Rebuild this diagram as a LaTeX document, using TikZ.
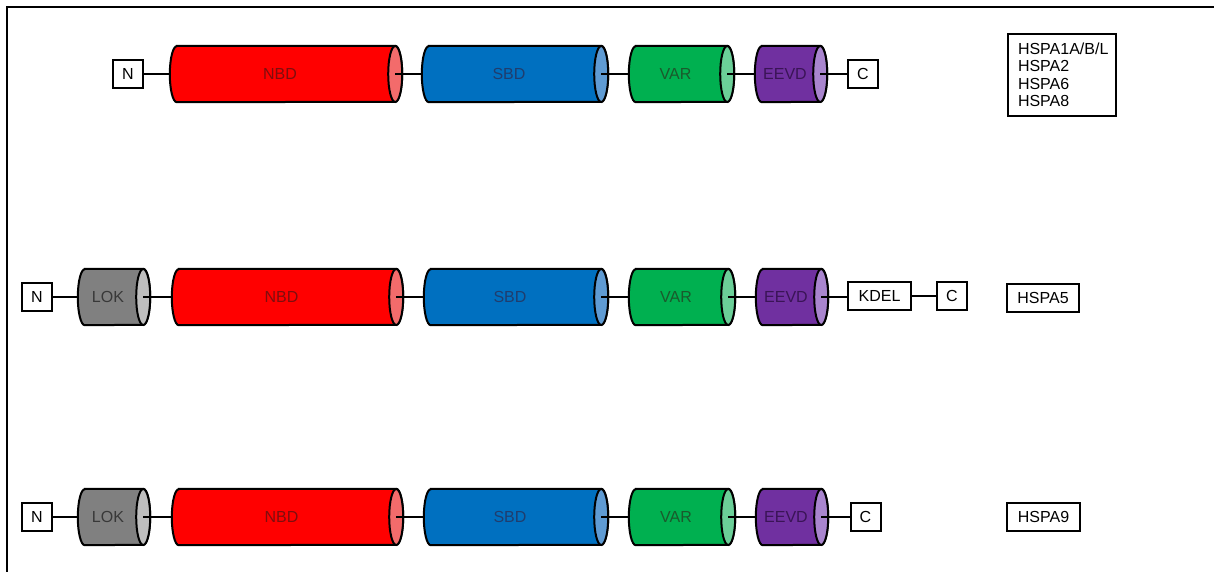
\documentclass[tikz,border=0pt]{standalone}
\usepackage{fontspec}
\setmainfont{Liberation Sans}
\usetikzlibrary{backgrounds,calc}
\definecolor{nbdB}{HTML}{FF0000}\definecolor{nbdC}{HTML}{F36B6B}\definecolor{nbdT}{HTML}{7E0E0E}
\definecolor{sbdB}{HTML}{0070C0}\definecolor{sbdC}{HTML}{5F9BD3}\definecolor{sbdT}{HTML}{1F3D6E}
\definecolor{varB}{HTML}{00B050}\definecolor{varC}{HTML}{6BCF98}\definecolor{varT}{HTML}{1A5A2C}
\definecolor{eevB}{HTML}{7030A0}\definecolor{eevC}{HTML}{A985CE}\definecolor{eevT}{HTML}{3A1456}
\definecolor{lokB}{HTML}{808080}\definecolor{lokC}{HTML}{BFBFBF}\definecolor{lokT}{HTML}{383838}
\newcommand\cylshape[3]{%
  \filldraw[line width=2pt, fill=#2] ([xshift=7pt]#1.north west) -- ([xshift=-7pt]#1.north east)
    arc[start angle=90,end angle=-90,x radius=7pt,y radius=28pt] -- ([xshift=7pt]#1.south west)
    arc[start angle=270,end angle=90,x radius=7pt,y radius=28pt] -- cycle;
  \filldraw[line width=2pt, fill=#3] ([xshift=-7pt]#1.east) ellipse [x radius=7pt, y radius=28pt];}
\begin{document}
\begin{tikzpicture}[x=1pt,y=-1pt,
  box/.style={draw, line width=2pt, fill=white, inner sep=0pt, minimum height=28pt, minimum width=30pt, font=\fontsize{16}{19}\selectfont},
  cyl/.style={inner sep=0pt, minimum height=56pt, font=\fontsize{16}{19}\selectfont, execute at end node={\hspace*{12pt}}},
  link/.style={line width=2pt}]
\useasboundingbox (0,0) rectangle (1214,572);
\draw[line width=2pt] (7,572) -- (7,7) -- (1214,7);
% row 1
\node[box] (n1) at (128,74) {N};
\node[cyl, minimum width=232pt, text=nbdT] (nbd1) at (286,74) {NBD};
\node[cyl, minimum width=186pt, text=sbdT] (sbd1) at (515,74) {SBD};
\node[cyl, minimum width=105pt, text=varT] (var1) at (681.5,74) {VAR};
\node[cyl, minimum width=72pt, text=eevT] (eev1) at (791,74) {EEVD};
\node[box] (c1) at (863,74) {C};
\node[draw, line width=2pt, anchor=north west, text width=88pt, inner xsep=10pt, inner ysep=0pt, minimum height=82pt, align=left, font=\fontsize{16}{17.5}\selectfont] (leg1) at (1007,33) {HSPA1A/B/L\\HSPA2\\HSPA6\\HSPA8};
% row 2
\node[box] (n2) at (37,297) {N};
\node[cyl, minimum width=72pt, text=lokT] (lok2) at (114,297) {LOK};
\node[cyl, minimum width=231pt, text=nbdT] (nbd2) at (287.5,297) {NBD};
\node[cyl, minimum width=184pt, text=sbdT] (sbd2) at (516,297) {SBD};
\node[cyl, minimum width=106pt, text=varT] (var2) at (682,297) {VAR};
\node[cyl, minimum width=72pt, text=eevT] (eev2) at (792,297) {EEVD};
\node[box, minimum width=63pt] (kdel2) at (879.5,296) {KDEL};
\node[box] (c2) at (952,296) {C};
\node[box, minimum width=72pt] (leg2) at (1043,297.5) {HSPA5};
% row 3
\node[box] (n3) at (37,517) {N};
\node[cyl, minimum width=72pt, text=lokT] (lok3) at (114,517) {LOK};
\node[cyl, minimum width=231pt, text=nbdT] (nbd3) at (287.5,517) {NBD};
\node[cyl, minimum width=184pt, text=sbdT] (sbd3) at (516,517) {SBD};
\node[cyl, minimum width=106pt, text=varT] (var3) at (682,517) {VAR};
\node[cyl, minimum width=72pt, text=eevT] (eev3) at (792,517) {EEVD};
\node[box] (c3) at (865.5,517) {C};
\node[box, minimum width=73pt] (leg3) at (1043.5,516.5) {HSPA9};
\begin{scope}[on background layer]
\cylshape{nbd1}{nbdB}{nbdC}\cylshape{sbd1}{sbdB}{sbdC}\cylshape{var1}{varB}{varC}\cylshape{eev1}{eevB}{eevC}
\cylshape{lok2}{lokB}{lokC}\cylshape{nbd2}{nbdB}{nbdC}\cylshape{sbd2}{sbdB}{sbdC}\cylshape{var2}{varB}{varC}\cylshape{eev2}{eevB}{eevC}
\cylshape{lok3}{lokB}{lokC}\cylshape{nbd3}{nbdB}{nbdC}\cylshape{sbd3}{sbdB}{sbdC}\cylshape{var3}{varB}{varC}\cylshape{eev3}{eevB}{eevC}
\end{scope}
% connectors
\draw[link] (n1.east) -- (nbd1.west);
\draw[link] ([xshift=-7pt]nbd1.east) -- (sbd1.west);
\draw[link] ([xshift=-7pt]sbd1.east) -- (var1.west);
\draw[link] ([xshift=-7pt]var1.east) -- (eev1.west);
\draw[link] ([xshift=-7pt]eev1.east) -- (c1.west);
\draw[link] (n2.east) -- (lok2.west);
\draw[link] ([xshift=-7pt]lok2.east) -- (nbd2.west);
\draw[link] ([xshift=-7pt]nbd2.east) -- (sbd2.west);
\draw[link] ([xshift=-7pt]sbd2.east) -- (var2.west);
\draw[link] ([xshift=-7pt]var2.east) -- (eev2.west);
\draw[link] ([xshift=-7pt]eev2.east) -- (kdel2.west |- eev2.east);
\draw[link] (kdel2.east) -- (c2.west);
\draw[link] (n3.east) -- (lok3.west);
\draw[link] ([xshift=-7pt]lok3.east) -- (nbd3.west);
\draw[link] ([xshift=-7pt]nbd3.east) -- (sbd3.west);
\draw[link] ([xshift=-7pt]sbd3.east) -- (var3.west);
\draw[link] ([xshift=-7pt]var3.east) -- (eev3.west);
\draw[link] ([xshift=-7pt]eev3.east) -- (c3.west);
\end{tikzpicture}
\end{document}
